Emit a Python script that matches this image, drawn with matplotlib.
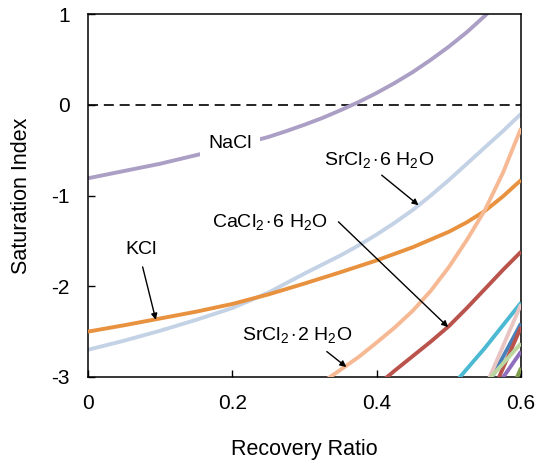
import matplotlib
matplotlib.use("Agg")
import matplotlib.pyplot as plt

plt.rcParams['font.family'] = ['Liberation Sans', 'DejaVu Sans']
plt.rcParams['mathtext.fontset'] = 'custom'
plt.rcParams['mathtext.rm'] = 'Liberation Sans'
plt.rcParams['mathtext.it'] = 'Liberation Sans:italic'

# ---- data ----
nacl_x = [0, 0.05, 0.10, 0.15, 0.20, 0.25, 0.275, 0.30, 0.325, 0.35, 0.375, 0.40,
          0.425, 0.45, 0.475, 0.50, 0.525, 0.55, 0.575]
nacl_y = [-0.81, -0.73, -0.65, -0.555, -0.46, -0.355, -0.29, -0.22, -0.145, -0.06, 0.03, 0.13,
          0.24, 0.36, 0.495, 0.64, 0.80, 0.98, 1.18]

sr6_x = [0, 0.05, 0.10, 0.15, 0.20, 0.25, 0.30, 0.325, 0.35, 0.375, 0.40, 0.425, 0.45,
         0.475, 0.50, 0.525, 0.55, 0.575, 0.60]
sr6_y = [-2.70, -2.60, -2.49, -2.37, -2.24, -2.07, -1.86, -1.76, -1.66, -1.55, -1.43, -1.30, -1.16,
         -1.00, -0.83, -0.65, -0.47, -0.29, -0.10]

kcl_x = [0, 0.05, 0.10, 0.15, 0.20, 0.25, 0.30, 0.35, 0.40, 0.45, 0.50, 0.525, 0.55, 0.575, 0.60]
kcl_y = [-2.50, -2.43, -2.355, -2.28, -2.195, -2.09, -1.97, -1.845, -1.715, -1.57, -1.40,
         -1.295, -1.17, -1.01, -0.83]

sr2_x = [0.33, 0.35, 0.375, 0.40, 0.425, 0.45, 0.475, 0.50, 0.525, 0.55, 0.575, 0.60]
sr2_y = [-3.03, -2.92, -2.78, -2.62, -2.455, -2.27, -2.05, -1.79, -1.49, -1.16, -0.75, -0.26]

ca6_x = [0.41, 0.425, 0.45, 0.475, 0.50, 0.525, 0.55, 0.575, 0.60]
ca6_y = [-3.03, -2.93, -2.77, -2.61, -2.44, -2.24, -2.03, -1.82, -1.62]

minor_x = {
    'cyan':  [0.51, 0.55, 0.60],
    'pink':  [0.555, 0.60],
    'steel': [0.558, 0.60],
    'brown': [0.568, 0.60],
    'green': [0.555, 0.60],
    'purple': [0.573, 0.60],
    'olive': [0.593, 0.60],
}
minor_y = {
    'cyan':  [-3.05, -2.68, -2.18],
    'pink':  [-3.03, -2.20],
    'steel': [-3.03, -2.41],
    'brown': [-3.03, -2.45],
    'green': [-3.03, -2.63],
    'purple': [-3.03, -2.72],
    'olive': [-3.03, -2.90],
}
minor_colors = {
    'cyan': '#4cb9d3', 'steel': '#4a80b8', 'brown': '#b9534c',
    'green': '#bcd6a0', 'purple': '#8f6fbd', 'pink': '#e8c5c2', 'olive': '#7e9d4c',
}
minor_order = ['cyan', 'steel', 'brown', 'pink', 'green', 'purple', 'olive']

xticks = [0, 0.2, 0.4, 0.6]
xticklabels = ['0', '0.2', '0.4', '0.6']
yticks = [-3, -2, -1, 0, 1]
yticklabels = ['-3', '-2', '-1', '0', '1']

# ---- figure ----
fig = plt.figure(figsize=(5.39, 4.66), dpi=100)
ax = fig.add_axes([88/539, 1-377/466, (521-88)/539, (377-14)/466])

lw = 2.8
style = dict(lw=lw, solid_capstyle='butt', solid_joinstyle='round')
ax.axhline(0, color='black', lw=1.2, ls=(0, (6, 3.5)), zorder=1)
ax.plot(nacl_x, nacl_y, color='#ac9fc5', zorder=2, **style)
ax.plot(sr6_x, sr6_y, color='#c4d2e6', zorder=2, **style)
ax.plot(kcl_x, kcl_y, color='#e8923f', zorder=3, **style)
ax.plot(sr2_x, sr2_y, color='#f6b993', zorder=3, **style)
ax.plot(ca6_x, ca6_y, color='#b9534c', zorder=3, **style)
for k in minor_order:
    ax.plot(minor_x[k], minor_y[k], color=minor_colors[k], zorder=3, **style)

ax.set_xlim(0, 0.6)
ax.set_ylim(-3, 1)
ax.set_xticks(xticks)
ax.set_xticklabels(xticklabels)
ax.set_yticks(yticks)
ax.set_yticklabels(yticklabels)
ax.tick_params(direction='in', length=5, width=1, labelsize=15)
ax.tick_params(axis='y', pad=13)
ax.tick_params(axis='x', pad=12)
for s in ax.spines.values():
    s.set_linewidth(1.1)
ax.set_xlabel('Recovery Ratio', fontsize=15.5, labelpad=19)
ax.set_ylabel('Saturation Index', fontsize=15.5, labelpad=14)

fs = 14
ax.text(0.197, -0.43, 'NaCl', fontsize=fs, ha='center', va='center', zorder=5,
        bbox=dict(facecolor='white', edgecolor='none', pad=6))

arrow = dict(arrowstyle='-|>', color='black', lw=1.0, mutation_scale=9,
             shrinkA=0, shrinkB=0)
dot = r'$\hspace{0.12}{\cdot}\hspace{0.12}$'
ax.text(0.403, -0.61, 'SrCl$_2$' + dot + '6 H$_2$O', fontsize=fs, ha='center', va='center', zorder=6)
ax.annotate('', xy=(0.458, -1.107), xytext=(0.407, -0.776), arrowprops=arrow, zorder=6)

ax.text(0.252, -1.29, 'CaCl$_2$' + dot + '6 H$_2$O', fontsize=fs, ha='center', va='center', zorder=6)
ax.annotate('', xy=(0.499, -2.45), xytext=(0.347, -1.29), arrowprops=arrow, zorder=6)

ax.text(0.073, -1.60, 'KCl', fontsize=fs, ha='center', va='center', zorder=6)
ax.annotate('', xy=(0.094, -2.37), xytext=(0.0757, -1.787), arrowprops=arrow, zorder=6)

ax.text(0.29, -2.54, 'SrCl$_2$' + dot + '2 H$_2$O', fontsize=fs, ha='center', va='center', zorder=6)
ax.annotate('', xy=(0.358, -2.89), xytext=(0.331, -2.72), arrowprops=arrow, zorder=6)

fig.savefig('out.png', dpi=100)
